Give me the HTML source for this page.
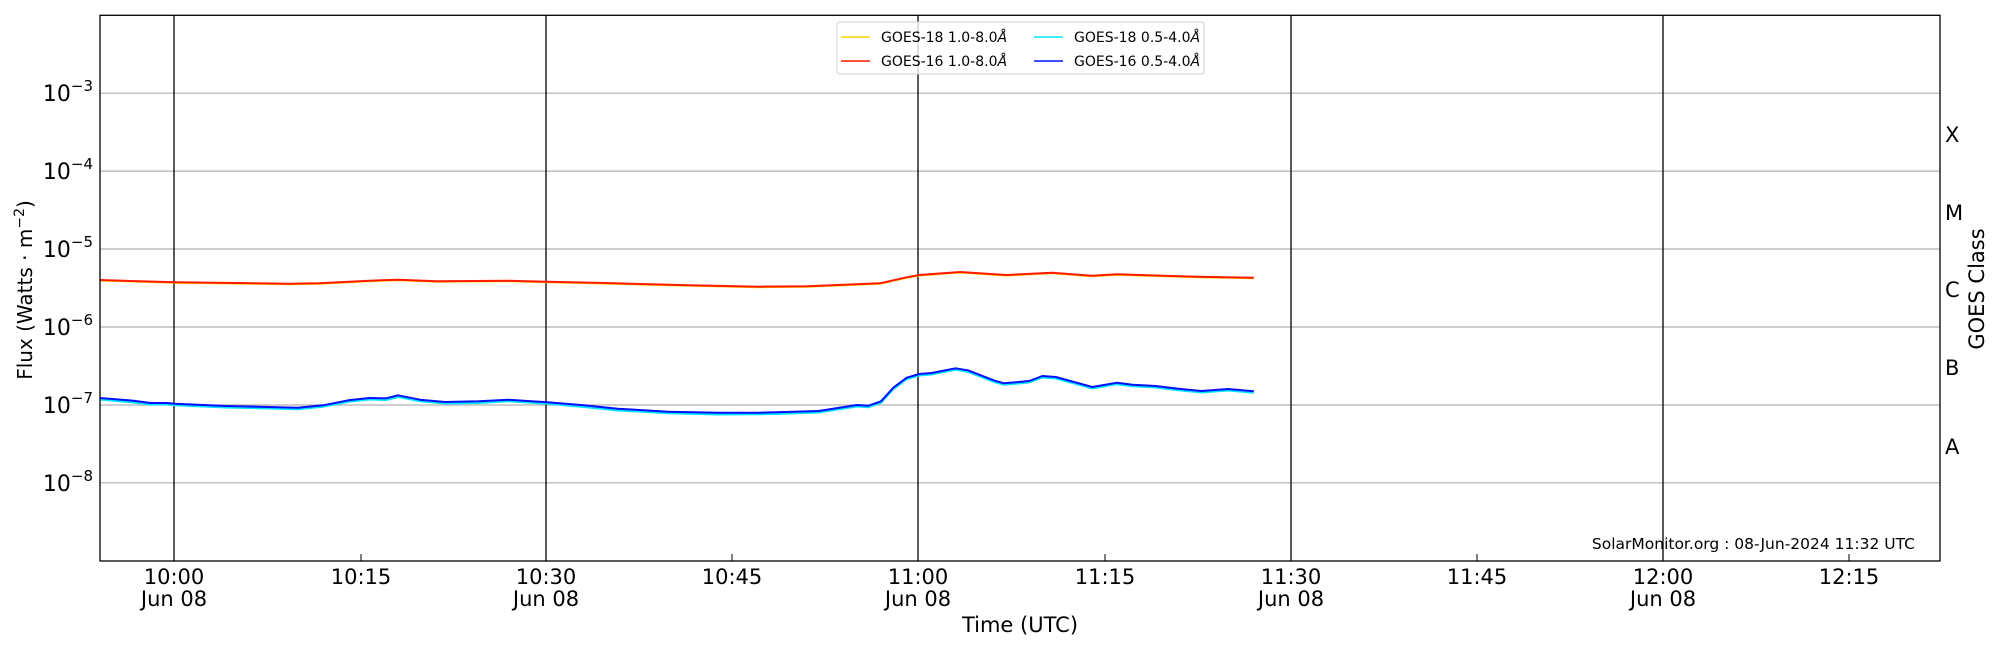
<!DOCTYPE html>
<html><head><meta charset="utf-8"><style>
body{margin:0;background:#fff}
svg{display:block;font-family:"DejaVu Sans","Liberation Sans",sans-serif}
</style></head><body>
<svg width="2000" height="650" viewBox="0 0 2000 650" xmlns="http://www.w3.org/2000/svg">
<rect width="2000" height="650" fill="#fff"/>
<g stroke="#b0b0b0" stroke-width="1.2">
<line x1="100" x2="1940" y1="93.2" y2="93.2"/><line x1="100" x2="1940" y1="171.1" y2="171.1"/>
<line x1="100" x2="1940" y1="249" y2="249"/><line x1="100" x2="1940" y1="327" y2="327"/>
<line x1="100" x2="1940" y1="405" y2="405"/><line x1="100" x2="1940" y1="482.8" y2="482.8"/>
</g>
<g stroke="#000" stroke-width="1.3">
<line x1="174" x2="174" y1="15" y2="561"/><line x1="546" x2="546" y1="15" y2="561"/>
<line x1="918" x2="918" y1="15" y2="561"/><line x1="1291" x2="1291" y1="15" y2="561"/>
<line x1="1663" x2="1663" y1="15" y2="561"/>
</g>
<g id="yt" stroke="#000" stroke-width="1"></g>
<g stroke="#000" stroke-width="1">
<line x1="361" x2="361" y1="561" y2="554"/><line x1="732" x2="732" y1="561" y2="554"/>
<line x1="1105" x2="1105" y1="561" y2="554"/><line x1="1477" x2="1477" y1="561" y2="554"/>
<line x1="1849" x2="1849" y1="561" y2="554"/>
</g>
<g fill="none" stroke-width="2" stroke-linejoin="round">
<polyline stroke="#ffd000" points="100,280.5 174.5,282.8 289.4,284.2 318.9,283.8 369.4,281.2 398.8,280.2 436.7,281.8 508.2,281.2 547.4,282.2 605,283.5 689.2,285.8 760,287.2 807.2,286.8 879.9,283.8 906.7,277.8 919.3,275.5 960.2,272.5 1006.2,275.5 1052.1,273.2 1092.3,276.2 1117.1,274.8 1197.5,277.2 1253.8,278.2"/>
<polyline stroke="#ff1a00" points="100,280 174.5,282.3 289.4,283.7 318.9,283.3 369.4,280.7 398.8,279.7 436.7,281.3 508.2,280.7 547.4,281.7 605,283 689.2,285.3 760,286.7 807.2,286.3 879.9,283.3 906.7,277.3 919.3,275 960.2,272 1006.2,275 1052.1,272.7 1092.3,275.7 1117.1,274.3 1197.5,276.7 1253.8,277.7"/>
<polyline stroke="#00e5ff" points="100,399.5 133.7,402.5 150.5,404.5 167.3,404.5 174.5,405.2 226.3,407.5 297.8,409.2 323.1,406.8 348.3,401.8 369.4,399.5 386.2,400 398,397 419.9,401.2 445.1,403.5 478.8,403 508.2,401.2 547.4,403.8 584,407 617.7,410.5 668.2,413.2 718.7,414.5 760,414.2 776.5,414 818.6,412.5 856.9,406.5 868.4,407.2 881,402.8 893.3,389.2 906.7,379.2 919.3,375.5 931.5,374.5 955.6,369.8 967.9,371.8 994.7,382.2 1004.2,384.8 1029.1,382.5 1042.5,377.5 1055.9,378.5 1092.3,388.5 1117.1,384.2 1132.5,386.2 1155.4,387.5 1178.4,390.2 1201.3,392.5 1228.1,390.5 1253.8,392.8"/>
<polyline stroke="#0010ff" points="100,398 133.7,400.7 150.5,403 167.3,403 174.5,403.7 226.3,406 297.8,407.7 323.1,405.3 348.3,400.3 369.4,398 386.2,398.3 398,395.3 419.9,399.7 445.1,402 478.8,401.3 508.2,399.7 547.4,402.3 584,405.3 617.7,408.7 668.2,411.7 718.7,412.7 760,412.7 776.5,412.3 818.6,411 856.9,405 868.4,405.7 881,401.3 893.3,387.7 906.7,377.7 919.3,374 931.5,373 955.6,368.3 967.9,370.3 994.7,380.7 1004.2,383.3 1029.1,381 1042.5,376 1055.9,377 1092.3,387 1117.1,382.7 1132.5,384.7 1155.4,386 1178.4,388.7 1201.3,391 1228.1,389 1253.8,391.3"/>
</g>
<rect x="100" y="15.3" width="1840" height="545.7" fill="none" stroke="#000" stroke-width="1.3"/>
<rect x="837" y="22" width="367" height="52" rx="3" fill="#fff" fill-opacity="0.8" stroke="#d0d0d0"/>
<g stroke-width="1.5">
<line x1="841" x2="870" y1="37" y2="37" stroke="#ffd000"/><line x1="841" x2="870" y1="61" y2="61" stroke="#ff1a00"/>
<line x1="1034" x2="1063" y1="37" y2="37" stroke="#00e5ff"/><line x1="1034" x2="1063" y1="61" y2="61" stroke="#0010ff"/>
</g>
<g font-size="14" fill="#000">
<text x="881" y="42">GOES-18 1.0-8.0<tspan font-style="italic">Å</tspan></text>
<text x="881" y="66">GOES-16 1.0-8.0<tspan font-style="italic">Å</tspan></text>
<text x="1074" y="42">GOES-18 0.5-4.0<tspan font-style="italic">Å</tspan></text>
<text x="1074" y="66">GOES-16 0.5-4.0<tspan font-style="italic">Å</tspan></text>
</g>
<g font-size="22" fill="#000" text-anchor="end">
<text x="93" y="101">10<tspan font-size="15" dy="-10">−3</tspan></text>
<text x="93" y="179">10<tspan font-size="15" dy="-10">−4</tspan></text>
<text x="93" y="257">10<tspan font-size="15" dy="-10">−5</tspan></text>
<text x="93" y="335">10<tspan font-size="15" dy="-10">−6</tspan></text>
<text x="93" y="413">10<tspan font-size="15" dy="-10">−7</tspan></text>
<text x="93" y="491">10<tspan font-size="15" dy="-10">−8</tspan></text>
</g>
<text transform="translate(32,290) rotate(-90)" font-size="20" text-anchor="middle">Flux (Watts · m<tspan font-size="14" dy="-8">−2</tspan><tspan dy="8">)</tspan></text>
<g font-size="21" text-anchor="middle">
<text x="174" y="584">10:00</text><text x="174" y="606">Jun 08</text>
<text x="361" y="584">10:15</text>
<text x="546" y="584">10:30</text><text x="546" y="606">Jun 08</text>
<text x="732" y="584">10:45</text>
<text x="918" y="584">11:00</text><text x="918" y="606">Jun 08</text>
<text x="1105" y="584">11:15</text>
<text x="1291" y="584">11:30</text><text x="1291" y="606">Jun 08</text>
<text x="1477" y="584">11:45</text>
<text x="1663" y="584">12:00</text><text x="1663" y="606">Jun 08</text>
<text x="1849" y="584">12:15</text>
<text x="1020" y="632">Time (UTC)</text>
</g>
<g font-size="21">
<text x="1945" y="142">X</text><text x="1945" y="220">M</text><text x="1945" y="297">C</text>
<text x="1945" y="375">B</text><text x="1945" y="454">A</text>
</g>
<text transform="translate(1984,289) rotate(-90)" font-size="21" text-anchor="middle">GOES Class</text>
<text x="1915" y="549" font-size="15.5" text-anchor="end">SolarMonitor.org : 08-Jun-2024 11:32 UTC</text>
<script>
(function(){var g=document.getElementById('yt'),s='',D=77.92,y0=93.2;
for(var e=-2;e>=-9;e--){var base=y0+(-3-e)*D;
 if(base>=15&&base<=561){s+='<line x1="100" x2="110" y1="'+base+'" y2="'+base+'"/><line x1="1930" x2="1940" y1="'+base+'" y2="'+base+'"/>';}
 for(var m=2;m<=9;m++){var y=base-Math.log10(m)*D; if(y>=15&&y<=561){s+='<line x1="100" x2="106" y1="'+y+'" y2="'+y+'"/><line x1="1934" x2="1940" y1="'+y+'" y2="'+y+'"/>';}}}
g.innerHTML=s;})();
</script>
</svg>
</body></html>
